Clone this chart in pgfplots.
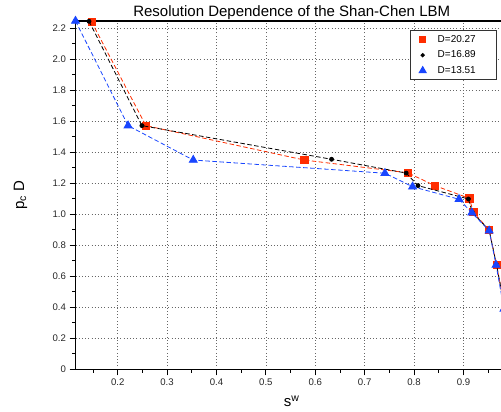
\documentclass[border=0pt]{standalone}
\usepackage{pgfplots}
\pgfplotsset{compat=1.18}
\usepackage{fontspec}
\setmainfont{Liberation Sans}
\definecolor{myred}{RGB}{255,45,0}
\definecolor{myblue}{RGB}{25,70,255}
\begin{document}
\begin{tikzpicture}
\begin{axis}[
  scale only axis,
  width=432.4pt, height=348.3pt,
  xmin=0.1146, xmax=0.99,
  ymin=0, ymax=2.247,
  clip mode=individual,
  axis line style={line width=1.1pt},
  tick align=outside,
  tick pos=left,
  major tick length=6pt,
  minor tick length=3.5pt,
  tick style={black, line width=0.8pt},
  xtick={0.2,0.3,0.4,0.5,0.6,0.7,0.8,0.9},
  xticklabels={0.2,0.3,0.4,0.5,0.6,0.7,0.8,0.9},
  minor xtick={0.15,0.25,0.35,0.45,0.55,0.65,0.75,0.85,0.95},
  ytick={0,0.2,0.4,0.6,0.8,1.0,1.2,1.4,1.6,1.8,2.0,2.2},
  yticklabels={0,0.2,0.4,0.6,0.8,1.0,1.2,1.4,1.6,1.8,2.0,2.2},
  minor ytick={0.1,0.3,0.5,0.7,0.9,1.1,1.3,1.5,1.7,1.9,2.1},
  ticklabel style={font=\fontsize{9.6}{11}\selectfont, text=black!85},
  xmajorgrids, ymajorgrids,
  major grid style={black!60, line width=0.6pt, dash pattern=on 0.8pt off 2.4pt},
  title={Resolution Dependence of the Shan-Chen LBM},
  title style={font=\fontsize{15}{17}\selectfont, at={(axis description cs:0.5,1.0125)}, anchor=base, yshift=-6pt},
  xlabel={s\textsuperscript{w}},
  xlabel style={font=\fontsize{15}{17}\selectfont, at={(axis description cs:0.5,-0.108)}, anchor=base},
  ylabel={p\textsubscript{c} D},
  ylabel style={font=\fontsize{15}{17}\selectfont, at={(axis description cs:-0.119,0.5)}, anchor=base},
  legend style={at={(axis cs:0.9685,2.189)}, anchor=north east, draw=black!80, line width=1pt,
    font=\fontsize{10}{12}\selectfont, inner xsep=4pt, inner ysep=3pt, row sep=3pt,
    nodes={inner sep=2pt}},
  legend cell align=left,
  legend image code/.code={\path[draw=none,fill=none] (0pt,-1pt) (21pt,1pt); \draw[#1] plot coordinates {(8pt,0pt)};},
]
\addplot[forget plot, myred, line width=0.8pt, dash pattern=on 4.5pt off 2.5pt,
  mark=square*, mark size=3.6pt, mark options={solid, fill=myred, draw=myred}] coordinates {
(0.147,2.243) (0.257,1.572) (0.578,1.350) (0.787,1.268) (0.842,1.185)
(0.912,1.103) (0.920,1.013) (0.952,0.899) (0.967,0.673) (0.984,0.39)
};
\addplot[forget plot, black, line width=0.8pt, dash pattern=on 4.5pt off 2.5pt,
  mark=*, mark size=2pt, mark options={solid, fill=black}] coordinates {
(0.142,2.245) (0.249,1.572) (0.633,1.355) (0.784,1.266) (0.808,1.185)
(0.910,1.099) (0.918,1.012) (0.952,0.897) (0.967,0.673) (0.984,0.39)
};
\addplot[forget plot, myblue, line width=0.8pt, dash pattern=on 4.5pt off 2.5pt,
  mark=triangle*, mark size=4.6pt, mark options={solid, fill=myblue, draw=myblue}] coordinates {
(0.1146,2.247) (0.221,1.572) (0.353,1.350) (0.741,1.265) (0.797,1.178)
(0.891,1.097) (0.917,1.010) (0.952,0.894) (0.966,0.673) (0.982,0.39)
};
\addlegendimage{only marks, mark=square*, mark size=3pt, myred}
\addlegendentry{D=20.27\hspace*{15pt}\null}
\addlegendimage{only marks, mark=*, mark size=1.6pt, black}
\addlegendentry{D=16.89\hspace*{15pt}\null}
\addlegendimage{only marks, mark=triangle*, mark size=4pt, myblue}
\addlegendentry{D=13.51\hspace*{15pt}\null}
\coordinate (BL) at (rel axis cs:0,0);
\coordinate (TR) at (axis cs:0.976,2.247);
\end{axis}
\pgfresetboundingbox
\path ([shift={(-75.5pt,-41.7pt)}]BL) rectangle ([shift={(0pt,21pt)}]TR);
\end{tikzpicture}
\end{document}
